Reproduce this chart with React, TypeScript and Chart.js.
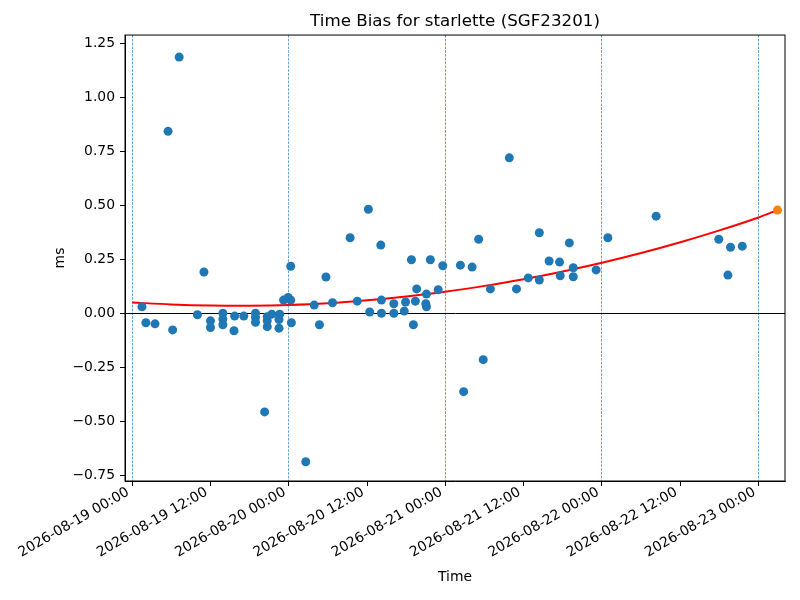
import { useEffect, useRef } from 'react';
import { Chart, registerables } from 'chart.js';

Chart.register(...registerables);

// hours since 2026-08-19 00:00 and the measured time bias (ms)
const sampleHours = [
  1.5, 2.1, 3.5, 5.5, 6.2, 7.2, 10.0, 11.0, 12.0, 12.0,
  13.9, 13.9, 13.9, 15.6, 15.7, 17.1, 18.9, 18.9, 18.9, 20.3,
  20.7, 20.7, 20.7, 21.4, 22.6, 22.5, 22.5, 23.2, 23.9, 24.3,
  24.3, 24.4, 26.6, 27.9, 28.7, 29.7, 30.7, 33.4, 34.5, 36.2,
  36.4, 38.1, 38.2, 38.2, 40.1, 40.1, 41.7, 41.9, 42.8, 43.1,
  43.6, 43.4, 45.0, 45.1, 45.1, 45.7, 46.9, 47.6, 50.3, 50.8,
  52.1, 53.1, 53.8, 54.9, 57.8, 58.9, 60.7, 62.4, 62.4, 63.9,
  65.5, 65.6, 67.0, 67.6, 67.6, 71.1, 72.9, 80.3, 89.9, 91.3,
  91.7, 93.5,
];
const sampleBias = [
  0.030, -0.044, -0.049, 0.843, -0.077, 1.187, -0.007, 0.191, -0.035, -0.066,
  0.000, -0.027, -0.053, -0.081, -0.013, -0.013, 0.000, -0.019, -0.042, -0.457,
  -0.016, -0.035, -0.062, -0.004, -0.004, -0.029, -0.069, 0.061, 0.073, 0.061,
  0.218, -0.044, -0.688, 0.038, -0.053, 0.168, 0.049, 0.350, 0.056, 0.482,
  0.006, 0.316, 0.061, 0.000, 0.044, 0.000, 0.010, 0.052, 0.248, -0.053,
  0.113, 0.056, 0.044, 0.030, 0.089, 0.248, 0.109, 0.220, 0.223, -0.363,
  0.214, 0.343, -0.215, 0.113, 0.720, 0.113, 0.164, 0.154, 0.373, 0.242,
  0.237, 0.174, 0.326, 0.211, 0.169, 0.201, 0.350, 0.450, 0.343, 0.177,
  0.306, 0.311,
];

// fitted trend
const trendHours = [0, 6, 12, 18, 24, 30, 36, 42, 48, 54, 60, 66, 72, 78, 84, 90, 96, 98.9];
const trendBias = [0.050, 0.041, 0.036, 0.035, 0.038, 0.046, 0.060, 0.078, 0.100, 0.127, 0.158, 0.194, 0.234, 0.279, 0.329, 0.384, 0.444, 0.478];

// predicted value (orange)
const predictHours = [98.9];
const predictBias = [0.478];

const xTickHours = [0, 12, 24, 36, 48, 60, 72, 84, 96];
const xTickLabels = [
  '2026-08-19 00:00', '2026-08-19 12:00', '2026-08-20 00:00', '2026-08-20 12:00',
  '2026-08-21 00:00', '2026-08-21 12:00', '2026-08-22 00:00', '2026-08-22 12:00',
  '2026-08-23 00:00',
];
const dayLineHours = [0, 24, 48, 72, 96];
const yTickValues = [-0.75, -0.5, -0.25, 0, 0.25, 0.5, 0.75, 1.0, 1.25];

const FONT = 'DejaVu Sans';

const framePlugin = {
  id: 'frame',
  afterDraw(chart: Chart) {
    const { ctx, chartArea } = chart;
    ctx.save();
    ctx.strokeStyle = '#000';
    ctx.lineWidth = 1;
    ctx.strokeRect(chartArea.left, chartArea.top, chartArea.right - chartArea.left, chartArea.bottom - chartArea.top);
    ctx.restore();
  },
};

export default function App() {
  const canvasRef = useRef<HTMLCanvasElement>(null);

  useEffect(() => {
    if (!canvasRef.current) return;
    const chart = new Chart(canvasRef.current, {
      type: 'scatter',
      data: {
        datasets: [
          {
            type: 'scatter',
            label: 'prediction',
            data: predictHours.map((h, i) => ({ x: h, y: predictBias[i] })),
            backgroundColor: '#ff7f0e',
            borderWidth: 0,
            pointRadius: 4.5,
            order: 0,
          },
          {
            type: 'scatter',
            label: 'time bias',
            data: sampleHours.map((h, i) => ({ x: h, y: sampleBias[i] })),
            backgroundColor: '#1f77b4',
            borderWidth: 0,
            pointRadius: 4.5,
            order: 1,
          },
          {
            type: 'line',
            label: 'fit',
            data: trendHours.map((h, i) => ({ x: h, y: trendBias[i] })),
            borderColor: '#ff0000',
            borderWidth: 2,
            pointRadius: 0,
            tension: 0.3,
            fill: false,
            order: 2,
          },
        ],
      },
      options: {
        responsive: false,
        animation: false,
        layout: { padding: { left: 0, right: 15, top: 0, bottom: 0 } },
        plugins: {
          legend: { display: false },
          tooltip: { enabled: false },
          title: {
            display: true,
            text: 'Time Bias for starlette (SGF23201)',
            fullSize: false,
            color: '#000',
            font: { family: FONT, size: 16.7, weight: 'normal' },
            padding: { top: 12, bottom: 3 },
          },
        },
        scales: {
          x: {
            type: 'linear',
            min: -1.1,
            max: 100.05,
            afterFit: (scale: any) => { scale.height = 119; },
            afterBuildTicks: (scale: any) => { scale.ticks = xTickHours.map((v) => ({ value: v })); },
            ticks: {
              autoSkip: false,
              minRotation: 30,
              maxRotation: 30,
              padding: -2,
              labelOffset: -4,
              color: '#000',
              font: { family: FONT, size: 13.9 },
              callback: (value: any) => xTickLabels[xTickHours.indexOf(Number(value))] ?? '',
            },
            grid: {
              drawOnChartArea: true,
              drawTicks: true,
              tickLength: 5,
              tickColor: '#000',
              tickWidth: 1,
              lineWidth: 0.8,
              color: (ctx: any) => dayLineHours.includes(ctx.tick?.value) ? 'rgba(31,119,180,0.85)' : 'rgba(0,0,0,0)',
            },
            border: { display: true, color: '#000', width: 1, dash: [2.6, 1.2] },
            title: {
              display: true,
              text: 'Time',
              color: '#000',
              font: { family: FONT, size: 13.9 },
              padding: { top: 0, bottom: 14.7 },
            },
          },
          y: {
            type: 'linear',
            min: -0.777,
            max: 1.289,
            afterFit: (scale: any) => { scale.width = 125; },
            afterBuildTicks: (scale: any) => { scale.ticks = yTickValues.map((v) => ({ value: v })); },
            ticks: {
              padding: 5,
              color: '#000',
              font: { family: FONT, size: 13.9 },
              callback: (value: any) => {
                const v = Number(value);
                return v < 0 ? '\u2212' + Math.abs(v).toFixed(2) : v.toFixed(2);
              },
            },
            grid: {
              drawOnChartArea: true,
              drawTicks: true,
              tickLength: 5,
              tickColor: '#000',
              tickWidth: 1,
              lineWidth: 1,
              color: (ctx: any) => ctx.tick?.value === 0 ? '#000' : 'rgba(0,0,0,0)',
            },
            border: { display: true, color: '#000', width: 1 },
            title: {
              display: true,
              text: 'ms',
              color: '#000',
              font: { family: FONT, size: 13.9 },
              padding: { top: 51.6, bottom: 0 },
            },
          },
        },
      },
      plugins: [framePlugin],
    });
    return () => chart.destroy();
  }, []);

  return (
    <div style={{ position: 'fixed', left: 0, top: 0, width: 800, height: 600, background: '#fff' }}>
      <canvas ref={canvasRef} width={800} height={600} />
    </div>
  );
}
